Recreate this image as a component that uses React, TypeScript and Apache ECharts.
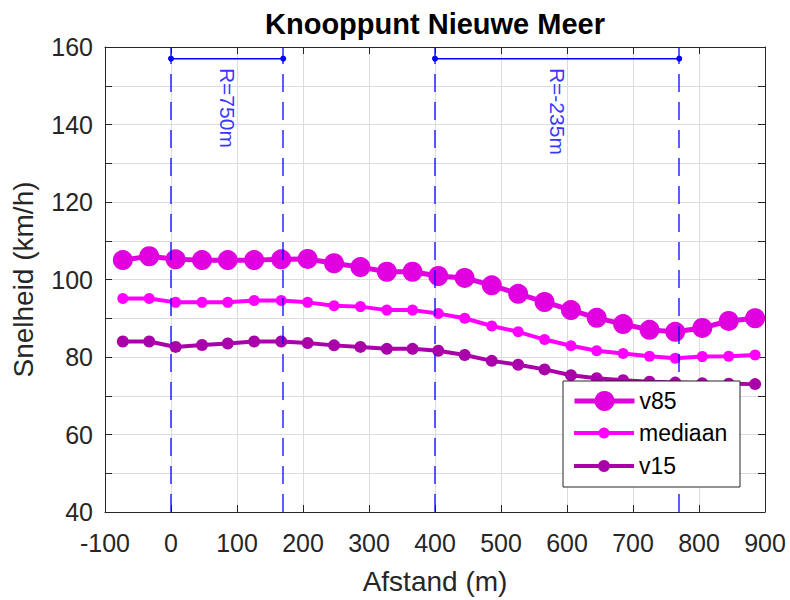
import React, { useEffect, useRef } from "react";
import * as echarts from "echarts";

// Distance along the route (m)
const afstand = [-73, -33, 7, 47, 86, 126, 167, 207, 247, 287, 327, 366, 405, 445, 486, 526, 566, 606, 645, 685, 725, 764, 805, 845, 885];

// Speed percentiles (km/h)
const v85 = [105, 106, 105.2, 105, 105, 105, 105.2, 105.3, 104.2, 103.2, 102, 102, 100.9, 100.4, 98.5, 96.3, 94.2, 92.1, 90.1, 88.5, 87, 86.5, 87.5, 89.3, 90];
const mediaan = [95.1, 95.1, 94.1, 94.1, 94.1, 94.6, 94.6, 94.1, 93.2, 93, 92.1, 92.1, 91.2, 90, 88, 86.5, 84.5, 82.9, 81.6, 80.9, 80.2, 79.7, 80.1, 80.2, 80.5];
const v15 = [84, 84, 82.6, 83.1, 83.5, 84, 84, 83.6, 83, 82.6, 82.1, 82.1, 81.6, 80.5, 79, 78, 76.8, 75.3, 74.5, 74, 73.6, 73.4, 73.2, 73.1, 73];

// Curve segments: start/end distance (m) and radius label
const bochtStart = [0, 400];
const bochtEind = [170, 770];
const bochtLabels = ["R=750m", "R=-235m"];
const bochtHoogte = 157;
const labelHoogte = 154.6;

const FONT = "'Liberation Sans', Arial, Helvetica, sans-serif";
const AXIS_COLOR = "#262626";
const GRID_COLOR = "#dcdcdc";
const BLUE = "#0000ff";

const C_V85 = "#e000e0";
const C_MED = "#ff00ff";
const C_V15 = "#aa00aa";

const pairs = (ys: number[]) => afstand.map((x, i) => [x, ys[i]]);

export default function App() {
  const ref = useRef<HTMLDivElement>(null);

  useEffect(() => {
    if (!ref.current) return;
    const chart = echarts.init(ref.current, null, { renderer: "svg" });

    const bochtSeries = bochtStart.map((s, i) => ({
      name: "bocht" + i,
      type: "line",
      data: [
        [s, bochtHoogte],
        [bochtEind[i], bochtHoogte],
      ],
      symbol: "circle",
      symbolSize: 6,
      itemStyle: { color: BLUE },
      lineStyle: { color: BLUE, width: 1.5 },
      silent: true,
      z: 3,
      markLine: {
        silent: true,
        symbol: ["none", "none"],
        label: { show: false },
        lineStyle: { color: BLUE, type: [18, 10], width: 1.5, opacity: 0.85 },
        data: [{ xAxis: s }, { xAxis: bochtEind[i] }],
      },
    }));

    const labelSeries = {
      name: "bochtlabels",
      type: "scatter",
      symbolSize: 0,
      silent: true,
      data: bochtStart.map((s, i) => ({
        value: [(s + bochtEind[i]) / 2, labelHoogte],
        name: bochtLabels[i],
      })),
      label: {
        show: true,
        formatter: (p: any) => p.name,
        position: [0, 0],
        rotate: -90,
        align: "left",
        verticalAlign: "middle",
        color: BLUE,
        fontSize: 21,
        fontFamily: FONT,
      },
    };

    const legendBase = {
      left: 572,
      padding: 0,
      itemWidth: 60,
      selectedMode: false,
      z: 10,
      textStyle: { fontSize: 23, lineHeight: 26, color: "#000", fontFamily: FONT },
    };

    chart.setOption({
      animation: false,
      backgroundColor: "#fff",
      textStyle: { fontFamily: FONT },
      grid: { left: 105, right: 25, top: 47, bottom: 87, containLabel: false },
      graphic: [
        {
          type: "text",
          x: 435,
          y: 24,
          style: {
            text: "Knooppunt Nieuwe Meer",
            align: "center",
            verticalAlign: "middle",
            fontSize: 29,
            fontWeight: "bold",
            fontFamily: FONT,
            fill: "#000",
          },
        },
        {
          type: "rect",
          z: 6,
          shape: { x: 563, y: 381, width: 177, height: 106 },
          style: { fill: "#fff", stroke: AXIS_COLOR, lineWidth: 1 },
        },
      ],
      legend: [
        {
          ...legendBase,
          top: 401 - 13,
          itemHeight: 25,
          lineStyle: { width: 5 },
          data: ["v85"],
        },
        {
          ...legendBase,
          top: 433 - 13,
          itemHeight: 14,
          lineStyle: { width: 4 },
          data: ["mediaan"],
        },
        {
          ...legendBase,
          top: 466 - 13,
          itemHeight: 15,
          lineStyle: { width: 4 },
          data: ["v15"],
        },
      ],
      xAxis: [
        {
          type: "value",
          min: -100,
          max: 900,
          interval: 100,
          name: "Afstand (m)",
          nameLocation: "middle",
          nameGap: 55,
          nameTextStyle: { fontSize: 28, color: AXIS_COLOR, fontFamily: FONT },
          axisLine: { show: true, onZero: false, lineStyle: { color: AXIS_COLOR, width: 1 } },
          axisTick: { show: true, inside: true, length: 7, lineStyle: { color: AXIS_COLOR } },
          axisLabel: { fontSize: 25, color: AXIS_COLOR, margin: 18, fontFamily: FONT },
          splitLine: { show: true, lineStyle: { color: GRID_COLOR, width: 1 } },
        },
        {
          type: "value",
          position: "top",
          min: -100,
          max: 900,
          interval: 100,
          axisLine: { show: true, onZero: false, lineStyle: { color: AXIS_COLOR, width: 1 } },
          axisTick: { show: true, inside: true, length: 7, lineStyle: { color: AXIS_COLOR } },
          axisLabel: { show: false },
          splitLine: { show: false },
        },
      ],
      yAxis: [
        {
          type: "value",
          min: 40,
          max: 160,
          interval: 10,
          name: "Snelheid (km/h)",
          nameLocation: "middle",
          nameGap: 68,
          nameTextStyle: { fontSize: 28, color: AXIS_COLOR, fontFamily: FONT },
          axisLine: { show: true, onZero: false, lineStyle: { color: AXIS_COLOR, width: 1 } },
          axisTick: { show: true, inside: true, length: 7, lineStyle: { color: AXIS_COLOR } },
          axisLabel: {
            fontSize: 25,
            color: AXIS_COLOR,
            margin: 12,
            fontFamily: FONT,
            formatter: (v: number) => (v % 20 === 0 ? String(v) : ""),
          },
          splitLine: { show: true, lineStyle: { color: GRID_COLOR, width: 1 } },
        },
        {
          type: "value",
          position: "right",
          min: 40,
          max: 160,
          interval: 10,
          axisLine: { show: true, onZero: false, lineStyle: { color: AXIS_COLOR, width: 1 } },
          axisTick: { show: true, inside: true, length: 7, lineStyle: { color: AXIS_COLOR } },
          axisLabel: { show: false },
          splitLine: { show: false },
        },
      ],
      series: [
        {
          name: "v85",
          type: "line",
          data: pairs(v85),
          symbol: "circle",
          symbolSize: 20,
          itemStyle: { color: C_V85 },
          lineStyle: { color: C_V85, width: 5 },
          z: 2,
        },
        {
          name: "mediaan",
          type: "line",
          data: pairs(mediaan),
          symbol: "circle",
          symbolSize: 11,
          itemStyle: { color: C_MED },
          lineStyle: { color: C_MED, width: 4 },
          z: 2,
        },
        {
          name: "v15",
          type: "line",
          data: pairs(v15),
          symbol: "circle",
          symbolSize: 12,
          itemStyle: { color: C_V15 },
          lineStyle: { color: C_V15, width: 4 },
          z: 2,
        },
        ...bochtSeries,
        labelSeries,
      ],
    });

    return () => chart.dispose();
  }, []);

  return (
    <div
      ref={ref}
      style={{ position: "fixed", left: 0, top: 0, width: 790, height: 600, background: "#fff" }}
    />
  );
}
